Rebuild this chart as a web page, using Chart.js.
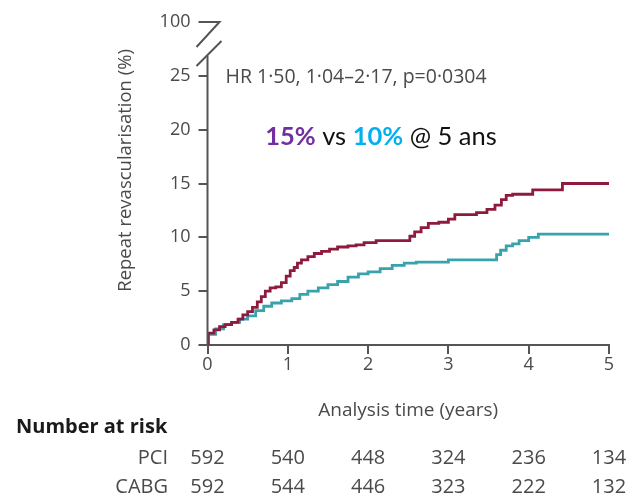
<!DOCTYPE html>
<html>
<head>
<meta charset="utf-8">
<script src="https://cdn.jsdelivr.net/npm/chart.js@4"></script>
<style>
  html, body { margin: 0; padding: 0; background: #fff; }
  #wrap { position: relative; width: 633px; height: 501px; }
</style>
</head>
<body>
<div id="wrap"><canvas id="km" width="633" height="501"></canvas></div>
<script>
// Kaplan–Meier cumulative incidence of repeat revascularisation
const pciTime  = [0, 0.01, 0.08, 0.15, 0.22, 0.30, 0.38, 0.44, 0.50, 0.56, 0.62, 0.67, 0.72, 0.78, 0.85, 0.92, 0.98, 1.03, 1.08, 1.12, 1.17, 1.25, 1.33, 1.42, 1.52, 1.62, 1.75, 1.85, 1.95, 2.10, 2.52, 2.58, 2.66, 2.75, 2.88, 3.00, 3.08, 3.35, 3.48, 3.58, 3.66, 3.72, 3.80, 4.05, 4.42, 5.00];
const pciRate  = [0, 1.1, 1.4, 1.7, 1.9, 2.1, 2.4, 2.8, 3.1, 3.5, 4.0, 4.5, 5.0, 5.3, 5.4, 5.8, 6.4, 6.9, 7.2, 7.6, 7.9, 8.2, 8.5, 8.7, 8.9, 9.1, 9.2, 9.3, 9.5, 9.7, 10.1, 10.5, 10.9, 11.3, 11.4, 11.7, 12.1, 12.3, 12.6, 13.0, 13.5, 13.9, 14.0, 14.4, 15.0, 15.0];
const cabgTime = [0, 0.01, 0.10, 0.20, 0.30, 0.40, 0.50, 0.60, 0.70, 0.80, 0.92, 1.05, 1.15, 1.25, 1.38, 1.50, 1.62, 1.75, 1.88, 2.00, 2.15, 2.30, 2.45, 2.60, 3.00, 3.60, 3.65, 3.72, 3.80, 3.88, 4.00, 4.12, 5.00];
const cabgRate = [0, 1.0, 1.5, 1.9, 2.1, 2.4, 2.7, 3.2, 3.6, 3.9, 4.1, 4.3, 4.7, 5.0, 5.3, 5.6, 5.9, 6.3, 6.6, 6.8, 7.1, 7.4, 7.6, 7.7, 7.9, 8.4, 8.8, 9.2, 9.4, 9.7, 10.0, 10.3, 10.3];

// Number at risk at each whole year
const riskYears   = [0, 1, 2, 3, 4, 5];
const pciAtRisk   = [592, 540, 448, 324, 236, 134];
const cabgAtRisk  = [592, 544, 446, 323, 222, 132];

// y ticks: the top tick sits above the axis break and reads 100
const yTickValues = [0, 5, 10, 15, 20, 25, 30];
const yTickLabels = ['0', '5', '10', '15', '20', '25', '100'];
const xTickValues = [0, 1, 2, 3, 4, 5];

const yTitle = 'Repeat revascularisation (%)';
const hrText = 'HR 1·50, 1·04–2·17, p=0·0304';
const headline = [
  { text: '15%', bold: true,  color: '#7030a0' },
  { text: ' vs ', bold: false, color: '#111111' },
  { text: '10%', bold: true,  color: '#00b0f0' },
  { text: ' @ 5 ans', bold: false, color: '#111111' }
];

const AXIS = '#555555';
const TEXT = '#4a4a4a';
const FONT = "'Open Sans', 'Noto Sans', sans-serif";

const toPoints = (t, v) => t.map((x, i) => ({ x: x, y: v[i] }));

const decorations = {
  id: 'decorations',
  afterDraw(chart) {
    const ctx = chart.ctx;
    const xs = chart.scales.x, ys = chart.scales.y;
    const x0 = xs.getPixelForValue(0);
    ctx.save();

    // broken y axis line
    ctx.strokeStyle = AXIS;
    ctx.lineWidth = 2;
    ctx.beginPath();
    ctx.moveTo(x0, ys.getPixelForValue(0) + 1);
    ctx.lineTo(x0, ys.getPixelForValue(26.9));
    ctx.stroke();
    const yTop = ys.getPixelForValue(30);
    ctx.beginPath();
    ctx.moveTo(x0 - 1, yTop);
    ctx.lineTo(x0 + 12, yTop);
    ctx.lineTo(x0 - 11, yTop + 25);
    ctx.moveTo(x0 + 14, yTop + 19);
    ctx.lineTo(x0 - 11, yTop + 44);
    ctx.stroke();

    // y axis title, centred on the 0–25 part of the axis
    ctx.save();
    ctx.translate(126, (ys.getPixelForValue(0) + ys.getPixelForValue(25)) / 2 - 40);
    ctx.rotate(-Math.PI / 2);
    ctx.fillStyle = TEXT;
    ctx.font = '18.5px ' + FONT;
    ctx.textAlign = 'center';
    ctx.textBaseline = 'middle';
    ctx.fillText(yTitle, 0, 0);
    ctx.restore();

    // hazard ratio text
    ctx.fillStyle = TEXT;
    ctx.font = '19.5px ' + FONT;
    ctx.textAlign = 'left';
    ctx.textBaseline = 'alphabetic';
    ctx.fillText(hrText, x0 + 18, ys.getPixelForValue(25) + 7);

    // headline
    const hf = s => (s.bold ? 'bold ' : '') + '25.5px Lato, sans-serif';
    let total = 0;
    headline.forEach(s => { ctx.font = hf(s); total += ctx.measureText(s.text).width; });
    let hx = 381 - total / 2;
    headline.forEach(s => {
      ctx.font = hf(s);
      ctx.fillStyle = s.color;
      ctx.fillText(s.text, hx, 145);
      hx += ctx.measureText(s.text).width;
    });

    // number-at-risk table
    ctx.fillStyle = '#1a1a1a';
    ctx.font = 'bold 20px ' + FONT;
    ctx.textAlign = 'left';
    ctx.fillText('Number at risk', 16, 433);
    ctx.fillStyle = TEXT;
    ctx.font = '20px ' + FONT;
    ctx.textAlign = 'right';
    ctx.fillText('PCI', 168, 464);
    ctx.fillText('CABG', 168, 493);
    ctx.textAlign = 'center';
    riskYears.forEach((yr, i) => {
      const px = xs.getPixelForValue(yr);
      ctx.fillText(String(pciAtRisk[i]), px, 464);
      ctx.fillText(String(cabgAtRisk[i]), px, 493);
    });
    ctx.restore();
  }
};

new Chart(document.getElementById('km'), {
  type: 'line',
  data: {
    datasets: [
      { label: 'PCI', data: toPoints(pciTime, pciRate), borderColor: '#8e1b3e', borderWidth: 2.8, stepped: true, pointRadius: 0, fill: false },
      { label: 'CABG', data: toPoints(cabgTime, cabgRate), borderColor: '#38a3ad', borderWidth: 2.8, stepped: true, pointRadius: 0, fill: false }
    ]
  },
  options: {
    responsive: false,
    animation: false,
    events: [],
    layout: { padding: { left: 116, right: 24, top: 22, bottom: 78 } },
    plugins: { legend: { display: false }, tooltip: { enabled: false } },
    scales: {
      x: {
        type: 'linear', min: 0, max: 5,
        afterBuildTicks: s => { s.ticks = xTickValues.map(v => ({ value: v })); },
        afterFit: s => { s.height = 78; s.paddingLeft = 0; s.paddingRight = 0; },
        ticks: { color: TEXT, font: { family: FONT, size: 18 }, padding: 0, maxRotation: 0, callback: v => String(v) },
        grid: { drawOnChartArea: false, drawTicks: true, tickLength: 9, color: AXIS, lineWidth: 2 },
        border: { display: true, color: AXIS, width: 2 },
        title: { display: true, text: 'Analysis time (years)', color: TEXT, font: { family: FONT, size: 19 }, padding: { top: 0, bottom: 1 } }
      },
      y: {
        type: 'linear', min: 0, max: 30,
        afterBuildTicks: s => { s.ticks = yTickValues.map(v => ({ value: v })); },
        afterFit: s => { s.width = 91.5; s.paddingTop = 0; s.paddingBottom = 0; },
        ticks: { color: TEXT, font: { family: FONT, size: 18 }, padding: 8, callback: (v, i) => yTickLabels[i] },
        grid: { drawOnChartArea: false, drawTicks: true, tickLength: 9, color: AXIS, lineWidth: 2 },
        border: { display: false },
        title: { display: false }
      }
    }
  },
  plugins: [decorations]
});
</script>
</body>
</html>
